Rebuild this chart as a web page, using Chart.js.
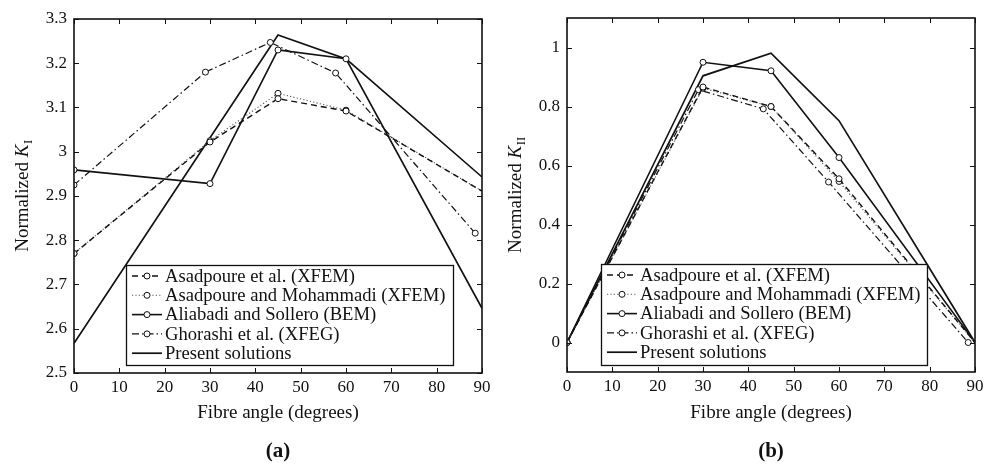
<!DOCTYPE html>
<html>
<head>
<meta charset="utf-8">
<script src="https://cdn.jsdelivr.net/npm/chart.js@4.4.0/dist/chart.umd.min.js"></script>
<style>
  html, body { margin:0; padding:0; background:#fff; }
  #wrap { position:relative; width:985px; height:467px; overflow:hidden; }
  .box { position:absolute; top:0; height:467px; }
</style>
</head>
<body>
<div id="wrap">
  <div class="box" style="left:0;width:492px;"><canvas id="cA" width="492" height="467"></canvas></div>
  <div class="box" style="left:492px;width:493px;"><canvas id="cB" width="493" height="467"></canvas></div>
</div>
<script>
// ---------- data ----------
const seriesNames = [
  'Asadpoure et al. (XFEM)',
  'Asadpoure and Mohammadi (XFEM)',
  'Aliabadi and Sollero (BEM)',
  'Ghorashi et al. (XFEG)',
  'Present solutions'
];
const xTicks = [0, 10, 20, 30, 40, 50, 60, 70, 80, 90];
const yTicksKI = [2.5, 2.6, 2.7, 2.8, 2.9, 3.0, 3.1, 3.2, 3.3];
const yTicksKII = [0, 0.2, 0.4, 0.6, 0.8, 1];

// (a) Normalized K_I
const asadEtAlAngles = [0, 30, 45, 60, 90];
const asadEtAlKI = [2.77, 3.022, 3.12, 3.092, 2.911];
const asadMohAngles = [0, 30, 45, 60, 90];
const asadMohKI = [2.77, 3.025, 3.132, 3.094, 2.911];
const aliabadiAngles = [0, 30, 45, 60, 90];
const aliabadiKI = [2.959, 2.928, 3.23, 3.21, 2.943];
const ghorashiAngles = [0, 29, 43.3, 57.7, 88.5];
const ghorashiKI = [2.925, 3.18, 3.247, 3.178, 2.816];
const presentAnglesKI = [0, 45, 60, 90];
const presentKI = [2.567, 3.264, 3.21, 2.646];

// (b) Normalized K_II
const asadEtAlKII = [0, 0.866, 0.80, 0.555, 0];
const asadMohKII = [0, 0.862, 0.80, 0.546, 0];
const aliabadiKII = [0, 0.95, 0.921, 0.627, 0];
const ghorashiKII = [0, 0.857, 0.792, 0.544, 0];
const presentAnglesKII = [0, 30, 45, 60, 90];
const presentKII = [0, 0.904, 0.981, 0.752, 0];

// ---------- helpers ----------
const FONT = '"Liberation Serif", "Times New Roman", serif';
const pts = (xs, ys) => xs.map((x, i) => ({ x: x, y: ys[i] }));
const markerRadius = ctx => (ctx.raw && ctx.raw.x >= 90 ? 0 : 3);

const styles = [
  { borderColor: '#111', borderWidth: 1.4, borderDash: [6, 4], marker: true },
  { borderColor: '#555', borderWidth: 1.1, borderDash: [1.2, 2.2], marker: true },
  { borderColor: '#111', borderWidth: 1.6, borderDash: [], marker: true },
  { borderColor: '#111', borderWidth: 1.2, borderDash: [7, 3, 1.5, 3], marker: true },
  { borderColor: '#111', borderWidth: 1.7, borderDash: [], marker: false }
];

function makeDatasets(dataList) {
  return dataList.map((d, i) => ({
    label: seriesNames[i],
    data: d,
    borderColor: styles[i].borderColor,
    borderWidth: styles[i].borderWidth,
    borderDash: styles[i].borderDash,
    showMarker: styles[i].marker,
    pointRadius: styles[i].marker ? markerRadius : 0,
    pointHoverRadius: 0,
    pointBackgroundColor: '#fff',
    pointBorderColor: '#111',
    pointBorderWidth: 1,
    tension: 0,
    fill: false
  }));
}

// frame, inward ticks, titles and legend
const decorPlugin = {
  id: 'decor',
  afterDatasetsDraw(chart) {
    const o = chart.options.plugins.decor;
    const ctx = chart.ctx;
    const a = chart.chartArea;
    const xs = chart.scales.x, ys = chart.scales.y;
    ctx.save();
    ctx.strokeStyle = '#111';
    ctx.lineWidth = 1;
    const tl = 5;
    ctx.beginPath();
    o.xTicks.forEach(v => {
      const px = Math.round(xs.getPixelForValue(v)) + 0.5;
      ctx.moveTo(px, a.bottom); ctx.lineTo(px, a.bottom - tl);
      ctx.moveTo(px, a.top); ctx.lineTo(px, a.top + tl);
    });
    o.yTicks.forEach(v => {
      const py = Math.round(ys.getPixelForValue(v)) + 0.5;
      ctx.moveTo(a.left, py); ctx.lineTo(a.left + tl, py);
      ctx.moveTo(a.right, py); ctx.lineTo(a.right - tl, py);
    });
    ctx.stroke();
    ctx.lineWidth = 1.6;
    ctx.strokeRect(a.left, a.top, a.right - a.left, a.bottom - a.top);
    ctx.restore();
  },
  afterDraw(chart) {
    const o = chart.options.plugins.decor;
    const ctx = chart.ctx;
    const a = chart.chartArea;
    const cx = (a.left + a.right) / 2;
    ctx.save();
    ctx.fillStyle = '#111';
    // x title
    ctx.font = '19px ' + FONT;
    ctx.textAlign = 'center';
    ctx.textBaseline = 'middle';
    ctx.fillText('Fibre angle (degrees)', cx, o.xTitleY);
    // panel label
    ctx.font = 'bold 21px ' + FONT;
    ctx.fillText(o.panel, cx, o.panelY);
    // y title with subscript
    ctx.save();
    ctx.translate(o.yTitleX, (a.top + a.bottom) / 2);
    ctx.rotate(-Math.PI / 2);
    const f1 = '19px ' + FONT, f2 = 'italic 19px ' + FONT, f3 = '13px ' + FONT;
    ctx.font = f1; const w1 = ctx.measureText('Normalized ').width;
    ctx.font = f2; const w2 = ctx.measureText('K').width;
    ctx.font = f3; const w3 = ctx.measureText(o.sub).width;
    let x = -(w1 + w2 + w3) / 2;
    ctx.textAlign = 'left';
    ctx.textBaseline = 'alphabetic';
    ctx.font = f1; ctx.fillText('Normalized ', x, 6); x += w1;
    ctx.font = f2; ctx.fillText('K', x, 6); x += w2 + 0.5;
    ctx.font = f3; ctx.fillText(o.sub, x, 10);
    ctx.restore();
    // legend
    const L = o.legend;
    ctx.fillStyle = '#fff';
    ctx.fillRect(L.x, L.y, L.w, L.h);
    ctx.strokeStyle = '#111';
    ctx.lineWidth = 1.3;
    ctx.strokeRect(L.x + 0.5, L.y + 0.5, L.w, L.h);
    chart.data.datasets.forEach((ds, i) => {
      const ry = L.y + L.first + i * L.step;
      ctx.save();
      ctx.strokeStyle = ds.borderColor;
      ctx.lineWidth = ds.borderWidth;
      ctx.setLineDash(ds.borderDash);
      ctx.beginPath();
      ctx.moveTo(L.x + 6, ry); ctx.lineTo(L.x + 36, ry);
      ctx.stroke();
      ctx.setLineDash([]);
      if (ds.showMarker) {
        ctx.beginPath();
        ctx.arc(L.x + 21, ry, 3, 0, Math.PI * 2);
        ctx.fillStyle = '#fff'; ctx.fill();
        ctx.strokeStyle = '#111'; ctx.lineWidth = 1; ctx.stroke();
      }
      ctx.fillStyle = '#111';
      ctx.font = '18.6px ' + FONT;
      ctx.textAlign = 'left';
      ctx.textBaseline = 'middle';
      ctx.fillText(ds.label, L.x + 39, ry + 1);
      ctx.restore();
    });
    ctx.restore();
  }
};

function makeChart(id, datasets, cfg) {
  return new Chart(document.getElementById(id), {
    type: 'line',
    data: { datasets: datasets },
    options: {
      responsive: false,
      animation: false,
      devicePixelRatio: 1,
      layout: { padding: { top: cfg.padTop, right: cfg.padRight, bottom: 0, left: 0 } },
      plugins: {
        legend: { display: false },
        tooltip: { enabled: false },
        decor: cfg.decor
      },
      scales: {
        x: {
          type: 'linear', min: 0, max: 90,
          afterBuildTicks: s => { s.ticks = xTicks.map(v => ({ value: v })); },
          afterFit: s => { s.height = cfg.xHeight; s.paddingRight = 0; s.paddingLeft = 0; },
          grid: { display: false, drawTicks: false },
          border: { display: false },
          ticks: { font: { family: FONT, size: 17 }, color: '#111', padding: 4, maxRotation: 0,
                   callback: v => String(v) }
        },
        y: {
          type: 'linear', min: cfg.ymin, max: cfg.ymax,
          afterBuildTicks: s => { s.ticks = cfg.yTicks.map(v => ({ value: v })); },
          afterFit: s => { s.width = cfg.yWidth; },
          grid: { display: false, drawTicks: false },
          border: { display: false },
          ticks: { font: { family: FONT, size: 17 }, color: '#111', padding: 7,
                   callback: v => String(Math.round(v * 10) / 10) }
        }
      }
    },
    plugins: [decorPlugin]
  });
}

makeChart('cA', makeDatasets([
  pts(asadEtAlAngles, asadEtAlKI),
  pts(asadMohAngles, asadMohKI),
  pts(aliabadiAngles, aliabadiKI),
  pts(ghorashiAngles, ghorashiKI),
  pts(presentAnglesKI, presentKI)
]), {
  padTop: 19, padRight: 10, xHeight: 94, yWidth: 74, ymin: 2.5, ymax: 3.3, yTicks: yTicksKI,
  decor: { xTicks: xTicks, yTicks: yTicksKI, panel: '(a)', sub: 'I',
           xTitleY: 413, panelY: 452, yTitleX: 22,
           legend: { x: 126, y: 265, w: 327, h: 100, first: 11, step: 19.3 } }
});

makeChart('cB', makeDatasets([
  pts(asadEtAlAngles, asadEtAlKII),
  pts(asadMohAngles, asadMohKII),
  pts(aliabadiAngles, aliabadiKII),
  pts(ghorashiAngles, ghorashiKII),
  pts(presentAnglesKII, presentKII)
]), {
  padTop: 18, padRight: 10, xHeight: 95, yWidth: 75, ymin: -0.1, ymax: 1.1, yTicks: yTicksKII,
  decor: { xTicks: xTicks, yTicks: yTicksKII, panel: '(b)', sub: 'II',
           xTitleY: 413, panelY: 452, yTitleX: 23,
           legend: { x: 109, y: 264, w: 326, h: 101, first: 11, step: 19.3 } }
});
</script>
</body>
</html>
